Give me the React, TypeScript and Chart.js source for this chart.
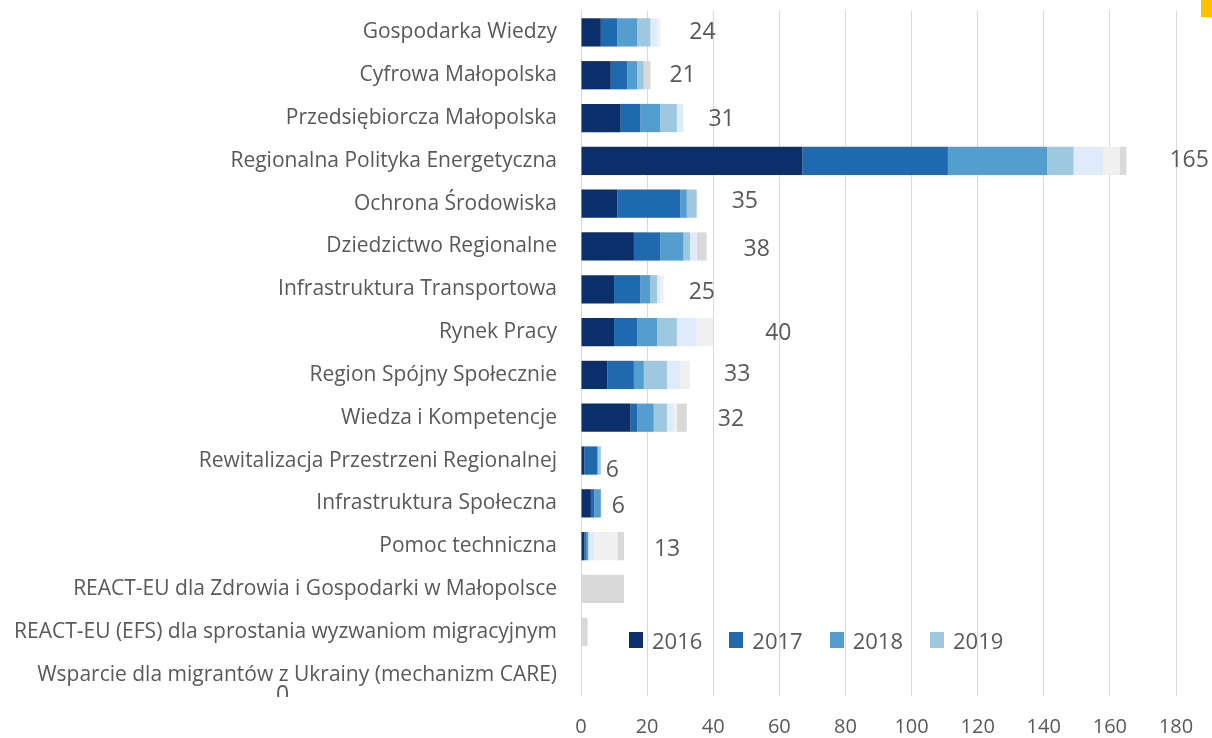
import React, { useEffect, useRef } from "react";
import { Chart, registerables } from "chart.js";

Chart.register(...registerables);

const categories = [
  "Gospodarka Wiedzy",
  "Cyfrowa Małopolska",
  "Przedsiębiorcza Małopolska",
  "Regionalna Polityka Energetyczna",
  "Ochrona Środowiska",
  "Dziedzictwo Regionalne",
  "Infrastruktura Transportowa",
  "Rynek Pracy",
  "Region Spójny Społecznie",
  "Wiedza i Kompetencje",
  "Rewitalizacja Przestrzeni Regionalnej",
  "Infrastruktura Społeczna",
  "Pomoc techniczna",
  "REACT-EU dla Zdrowia i Gospodarki w Małopolsce",
  "REACT-EU (EFS) dla sprostania wyzwaniom migracyjnym",
  "Wsparcie dla migrantów z Ukrainy (mechanizm CARE)",
];

const years = ["2016", "2017", "2018", "2019", "2020", "2021", "2022"];

const v2016 = [6, 9, 12, 67, 11, 16, 10, 10, 8, 15, 1, 3, 1, 0, 0, 0];
const v2017 = [5, 5, 6, 44, 19, 8, 8, 7, 8, 2, 4, 1, 0.5, 0, 0, 0];
const v2018 = [6, 3, 6, 30, 2, 7, 3, 6, 3, 5, 0, 2, 0.7, 0, 0, 0];
const v2019 = [4, 2, 5, 8, 3, 2, 2, 6, 7, 4, 1, 0, 0, 0, 0, 0];
const v2020 = [2, 0, 2, 9, 0, 2, 1, 6, 4, 2, 0, 0, 1.8, 0, 0, 0];
const v2021 = [1, 0, 0, 5, 0, 0, 1, 5, 3, 1, 0, 0, 7, 0, 0, 0];
const v2022 = [0, 2, 0, 2, 0, 3, 0, 0, 0, 3, 0, 0, 2, 13, 2, 0];

const totalShown = [true, true, true, true, true, true, true, true, true, true, true, true, true, false, false, true];

const xTicks = [0, 20, 40, 60, 80, 100, 120, 140, 160, 180];

// style: label offsets (px) relative to the end of each bar
const labelNudge: [number, number][] = [
  [29, 0], [19, 0], [25, 1.5], [43, 0], [35, -2], [37, 2.5], [25, 3], [52, 1.5],
  [34, 0], [31, 2], [5, 9.5], [11, 3.5], [30, 3.5], [0, 0], [0, 0], [-305, 21],
];

const colors = ["#0B2F6B", "#1F6AAF", "#539DCF", "#9DC8E0", "#DFEAFA", "#F0F0F0", "#D9D9D9"];
const TEXT = "#595959";
const FONT = "'Open Sans', sans-serif";

const seriesValues = [v2016, v2017, v2018, v2019, v2020, v2021, v2022];

const totalsPlugin = {
  id: "totals",
  afterDatasetsDraw(chart: any) {
    const { ctx, scales, chartArea } = chart;
    const xs = scales.x;
    const ys = scales.y;
    ctx.save();
    ctx.beginPath();
    ctx.rect(0, 0, chart.width, chartArea.bottom + 1);
    ctx.clip();
    ctx.font = `23px ${FONT}`;
    ctx.fillStyle = TEXT;
    ctx.textAlign = "left";
    ctx.textBaseline = "middle";
    categories.forEach((_, i) => {
      if (!totalShown[i]) return;
      const total = seriesValues.reduce((s, arr) => s + arr[i], 0);
      const x = xs.getPixelForValue(total) + labelNudge[i][0];
      const y = ys.getPixelForValue(i) + labelNudge[i][1];
      ctx.fillText(String(Math.round(total)), x, y);
    });
    ctx.restore();
  },
};

export default function App() {
  const ref = useRef<HTMLCanvasElement | null>(null);

  useEffect(() => {
    if (!ref.current) return;
    const chart = new Chart(ref.current, {
      type: "bar",
      data: {
        labels: categories,
        datasets: years.map((y, k) => ({
          label: y,
          data: seriesValues[k],
          backgroundColor: colors[k],
          borderWidth: 0,
          stack: "s",
          categoryPercentage: 1,
          barPercentage: 0.66,
        })),
      },
      options: {
        indexAxis: "y",
        animation: false,
        responsive: true,
        maintainAspectRatio: false,
        layout: { padding: { top: 11, right: 36, bottom: 0, left: 0 } },
        plugins: {
          legend: { display: false },
          tooltip: { enabled: false },
        },
        scales: {
          x: {
            type: "linear",
            min: 0,
            max: 180,
            afterBuildTicks: (s: any) => {
              s.ticks = xTicks.map((v) => ({ value: v }));
            },
            afterFit: (s: any) => {
              s.height = 42;
              s.paddingLeft = 0;
              s.paddingRight = 0;
            },
            grid: { color: "#D9D9D9", drawTicks: false, lineWidth: 1 },
            border: { display: false },
            ticks: { color: TEXT, font: { family: FONT, size: 20 }, padding: 19 },
          },
          y: {
            stacked: true,
            afterFit: (s: any) => {
              s.width = 581;
              s.paddingTop = 0;
              s.paddingBottom = 0;
            },
            grid: { display: false, drawTicks: false },
            border: { display: false },
            ticks: { color: TEXT, font: { family: FONT, size: 21 }, padding: 24, autoSkip: false },
          },
        },
      } as any,
      plugins: [totalsPlugin],
    });
    return () => chart.destroy();
  }, []);

  const legendItems = years.slice(0, 4);

  return (
    <div style={{ position: "absolute", left: 0, top: 0, width: 1212, height: 738, background: "#fff" }}>
      <canvas ref={ref} />
      <div
        style={{
          position: "absolute",
          left: 629,
          top: 625,
          display: "flex",
          alignItems: "center",
          fontFamily: FONT,
          fontSize: 22,
          color: TEXT,
          lineHeight: "30px",
        }}
      >
        {legendItems.map((y, k) => (
          <div key={y} style={{ display: "flex", alignItems: "center", marginRight: 27 }}>
            <span style={{ display: "inline-block", width: 14, height: 16, background: colors[k], marginRight: 9 }} />
            <span>{y}</span>
          </div>
        ))}
      </div>
      <div style={{ position: "absolute", left: 1201, top: 0, width: 11, height: 17, background: "#FFC000" }} />
    </div>
  );
}
